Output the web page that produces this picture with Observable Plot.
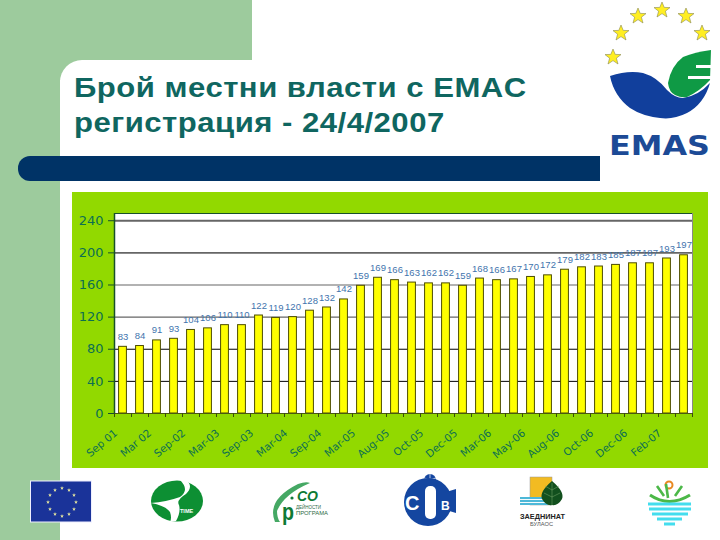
<!DOCTYPE html>
<html><head><meta charset="utf-8">
<script src="https://cdn.jsdelivr.net/npm/d3@7"></script>
<script src="https://cdn.jsdelivr.net/npm/@observablehq/plot@0.6"></script>
<style>
html,body{margin:0;padding:0;background:#fff;width:720px;height:540px;overflow:hidden}
.abs{position:absolute}
#title{left:74px;top:70px;margin:0;font:bold 27.5px/35px "Liberation Sans",Arial,sans-serif;color:#0f6660;white-space:nowrap;letter-spacing:.44px;transform:scaleX(1.13);transform-origin:0 0}
#chart{left:72px;top:192px;width:636px;height:276px;background:#92d900}
#chart svg{display:block;background:transparent}
</style></head><body>
<div class="abs" style="left:0;top:0;width:252px;height:80px;background:#9dcb9d"></div>
<div class="abs" style="left:0;top:0;width:60px;height:540px;background:#9dcb9d"></div>
<div class="abs" style="left:60px;top:60px;width:660px;height:480px;background:#fff;border-top-left-radius:22px"></div>
<div class="abs" style="left:18px;top:156px;width:582px;height:25px;background:#003366;border-radius:12px 0 0 12px"></div>
<h1 class="abs" id="title">Брой местни власти с EMAC<br>регистрация - 24/4/2007</h1>
<div class="abs" id="chart"></div>

<svg class="abs" style="left:0;top:0" width="720" height="540" viewBox="0 0 720 540" pointer-events="none">
  <defs>
    <polygon id="star" points="0,-8 2.2,-2.6 8,-2.4 3.4,1.2 5,7 0,3.6 -5,7 -3.4,1.2 -8,-2.4 -2.2,-2.6" fill="#ffee22" stroke="#8a8a50" stroke-width=".6"/>
    <polygon id="s2" points="0,-2 .5,-.6 2,-.6 .8,.3 1.2,1.7 0,.9 -1.2,1.7 -.8,.3 -2,-.6 -.5,-.6" fill="#e8e8a0"/>
  </defs>
  <use href="#star" x="613" y="57"/><use href="#star" x="621" y="33"/><use href="#star" x="638" y="16"/>
  <use href="#star" x="662" y="10"/><use href="#star" x="686" y="16"/><use href="#star" x="702" y="33"/>
  <path d="M610 76 Q628 70 643 73 Q657 77 667 90 Q675 98 683 98 Q698 96 710 83 Q704 104 687 113 Q673 120 660 118 Q642 116 630 108 Q614 96 610 76Z" fill="#113f9c"/>
  <path d="M711 50 Q695 52 683 57 Q671 66 668 83 Q669 92 675 95 Q681 98 687 97 Q700 91 710 80Z" fill="#0f9a45"/>
  <path d="M696 65 H711 V68 H696Z M688 76 H711 V79 H688Z" fill="#fff"/>
  <text x="609" y="155" font-family="DejaVu Sans,Verdana,sans-serif" font-size="27" font-weight="bold" fill="#1c4a96" textLength="101" lengthAdjust="spacingAndGlyphs">EMAS</text>

  <rect x="30.5" y="481" width="61" height="41" fill="#1a3399" stroke="#eef" />
  <g><use href="#s2" x="62" y="488"/><use href="#s2" x="69" y="490"/><use href="#s2" x="74" y="495"/><use href="#s2" x="76" y="502"/><use href="#s2" x="74" y="509"/><use href="#s2" x="69" y="514"/><use href="#s2" x="62" y="516"/><use href="#s2" x="55" y="514"/><use href="#s2" x="50" y="509"/><use href="#s2" x="48" y="502"/><use href="#s2" x="50" y="495"/><use href="#s2" x="55" y="490"/></g>

  <ellipse cx="177" cy="501" rx="26" ry="20.5" fill="#0d8f33"/>
  <path d="M180 480 Q190 490 180 497 Q166 502 151 503 Q166 506 170 512 Q172 518 170 522 L176 521 Q181 512 179 505 Q176 500 186 494 Q194 486 186 480Z" fill="#fff"/>
  <text x="180" y="513" font-family="Liberation Sans,Arial,sans-serif" font-size="5.5" font-weight="bold" fill="#fff">TIME</text>

  <path d="M275 522 Q266 500 298 484 Q306 481 310 483 Q284 494 277 511 Q277 518 280 522Z" fill="#45a864"/>
  <circle cx="292" cy="498" r="1.6" fill="#117a3a"/>
  <text x="297" y="501" font-family="Liberation Sans,Arial,sans-serif" font-size="14" font-style="italic" font-weight="bold" fill="#0e7a35">CO</text>
  <text x="282" y="520" font-family="Liberation Sans,Arial,sans-serif" font-size="23" font-weight="bold" fill="#0e7a35" textLength="12" lengthAdjust="spacingAndGlyphs">р</text>
  <text x="296" y="509" font-family="Liberation Sans,Arial,sans-serif" font-size="4.5" fill="#2b6b45" textLength="25" lengthAdjust="spacingAndGlyphs">ДЕЙНОСТИ</text>
  <text x="296" y="515" font-family="Liberation Sans,Arial,sans-serif" font-size="4.5" fill="#2b6b45" textLength="32" lengthAdjust="spacingAndGlyphs">ПРОГРАМА</text>

  <circle cx="430" cy="480" r="6" fill="#1446a0"/>
  <path d="M424 478 Q430 481 436 478 M430 474 V486" stroke="#fff" stroke-width=".7" fill="none"/>
  <circle cx="428" cy="502" r="24" fill="#1446a0"/>
  <path d="M446 492 L456 489 V513 L446 510Z" fill="#1446a0"/>
  <rect x="425" y="486" width="11" height="33" rx="5" fill="#fff"/>
  <text x="405" y="510" font-family="Liberation Sans,Arial,sans-serif" font-size="20" font-weight="bold" fill="#fff">C</text>
  <text x="441" y="510" font-family="Liberation Sans,Arial,sans-serif" font-size="12" font-weight="bold" fill="#fff">B</text>

  <rect x="530" y="477" width="22" height="28" fill="#f2bb22" stroke="#999" stroke-width=".5"/>
  <rect x="520" y="497" width="28" height="8" fill="#f4fbfd"/>
  <path d="M520 498 H547 M520 501 H547 M520 504 H548" stroke="#4db8d8" stroke-width="1.8"/>
  <path d="M552 481 Q565 492 562 499 Q558 506 552 505 Q546 506 542 499 Q539 492 552 481Z" fill="#12501e"/>
  <path d="M552 483 V505 M552 490 L559 486 M552 490 L545 486 M552 497 L560 493 M552 497 L544 493" stroke="#79a86d" stroke-width=".5" fill="none"/>
  <text x="520" y="519" font-family="Liberation Sans,Arial,sans-serif" font-size="6.8" font-weight="bold" fill="#222" textLength="45" lengthAdjust="spacingAndGlyphs">ЗАЕДНИНАТ</text>
  <text x="530" y="526" font-family="Liberation Sans,Arial,sans-serif" font-size="5" fill="#555" textLength="23" lengthAdjust="spacingAndGlyphs">БУЛАОС</text>

  <circle cx="669" cy="485" r="3.5" fill="none" stroke="#e88822" stroke-width="2"/>
  <path d="M650 495 Q669 508 690 495" fill="none" stroke="#4cb848" stroke-width="3"/>
  <path d="M657 486 L664 496 M682 486 L675 496 M666 484 L668 498" stroke="#4cb848" stroke-width="2.6"/>
  <path d="M648 504 H691 M649 509 H691 M652 514 H688 M657 519 H682 M664 524 H675" stroke="#44ddee" stroke-width="2.8"/>
</svg>

<script>
const values = [83,84,91,93,104,106,110,110,122,119,120,128,132,142,159,169,166,163,162,162,159,168,166,167,170,172,179,182,183,185,187,187,193,197];
const valueLabels = ["83","84","91","93","104","106","110","110","122","119","120","128","132","142","159","169","166","163","162","162","159","168","166","167","170","172","179","182","183","185","187","187","193","197"];
const tickLabels = ["Sep 01","Mar 02","Sep-02","Mar-03","Sep-03","Mar-04","Sep-04","Mar-05","Aug-05","Oct-05","Dec-05","Mar-06","May-06","Aug-06","Oct-06","Dec-06","Feb-07"];
const yTicks = [0,40,80,120,160,200,240];
const gridColor = ["#000","#000","#000","#666","#666","#666","#666"];

const rows = values.map((v,i)=>({i,v,label:valueLabels[i]}));
const boundaries = d3.range(values.length+1);
const labelPositions = tickLabels.map((_,k)=>k*2+0.5);
const grid = yTicks.slice(1).map((y,k)=>({y,c:gridColor[k+1],w:y>=200?1.8:(y>=120?1.2:1)}));
const ink = "#0c6f52";

const chart = Plot.plot({
  width:636,height:276,
  marginLeft:42,marginRight:16,marginTop:21,marginBottom:55,
  style:{background:"transparent",overflow:"visible"},
  x:{domain:[0,values.length],label:null},
  y:{domain:[0,249],label:null},
  marks:[
    Plot.rect([0],{x1:0,x2:values.length,y1:0,y2:249,fill:"#fff"}),
    Plot.ruleY(grid,{y:"y",stroke:"c",strokeWidth:"w"}),
    Plot.rectY(rows,{x1:d=>d.i+0.27,x2:d=>d.i+0.73,y1:0,y2:"v",fill:"#ffff00",stroke:"#4c4c00",strokeWidth:1}),
    Plot.text(rows,{x:d=>d.i+0.5,y:"v",text:"label",dy:-10,fill:"#3f74ad",fontSize:9.5,fontFamily:"Liberation Sans, Arial, sans-serif"}),
    Plot.ruleX([0],{stroke:"#17502a",strokeWidth:1.5}),
    Plot.ruleX([values.length],{stroke:"#888",strokeWidth:1}),
    Plot.ruleY([249],{stroke:"#17502a",strokeWidth:1.2}),
    Plot.ruleY([0],{stroke:"#4a5a10",strokeWidth:1.2}),
    Plot.axisY({ticks:yTicks,tickSize:6,stroke:"#17502a",fill:ink,fontSize:13,tickPadding:5,label:null,
      fontFamily:"DejaVu Sans, Verdana, sans-serif"}),
    Plot.axisX({ticks:boundaries,tickSize:4,stroke:"#3a4a10",tickFormat:()=>"",label:null}),
    Plot.axisX({ticks:labelPositions,tickSize:0,tickPadding:18,tickRotate:-40,textAnchor:"end",fill:ink,fontSize:10.5,
      fontFamily:"DejaVu Sans, Verdana, sans-serif",label:null,dx:-7,
      tickFormat:d=>tickLabels[Math.round((d-0.5)/2)]})
  ]
});
document.getElementById("chart").appendChild(chart);
</script>
</body></html>
